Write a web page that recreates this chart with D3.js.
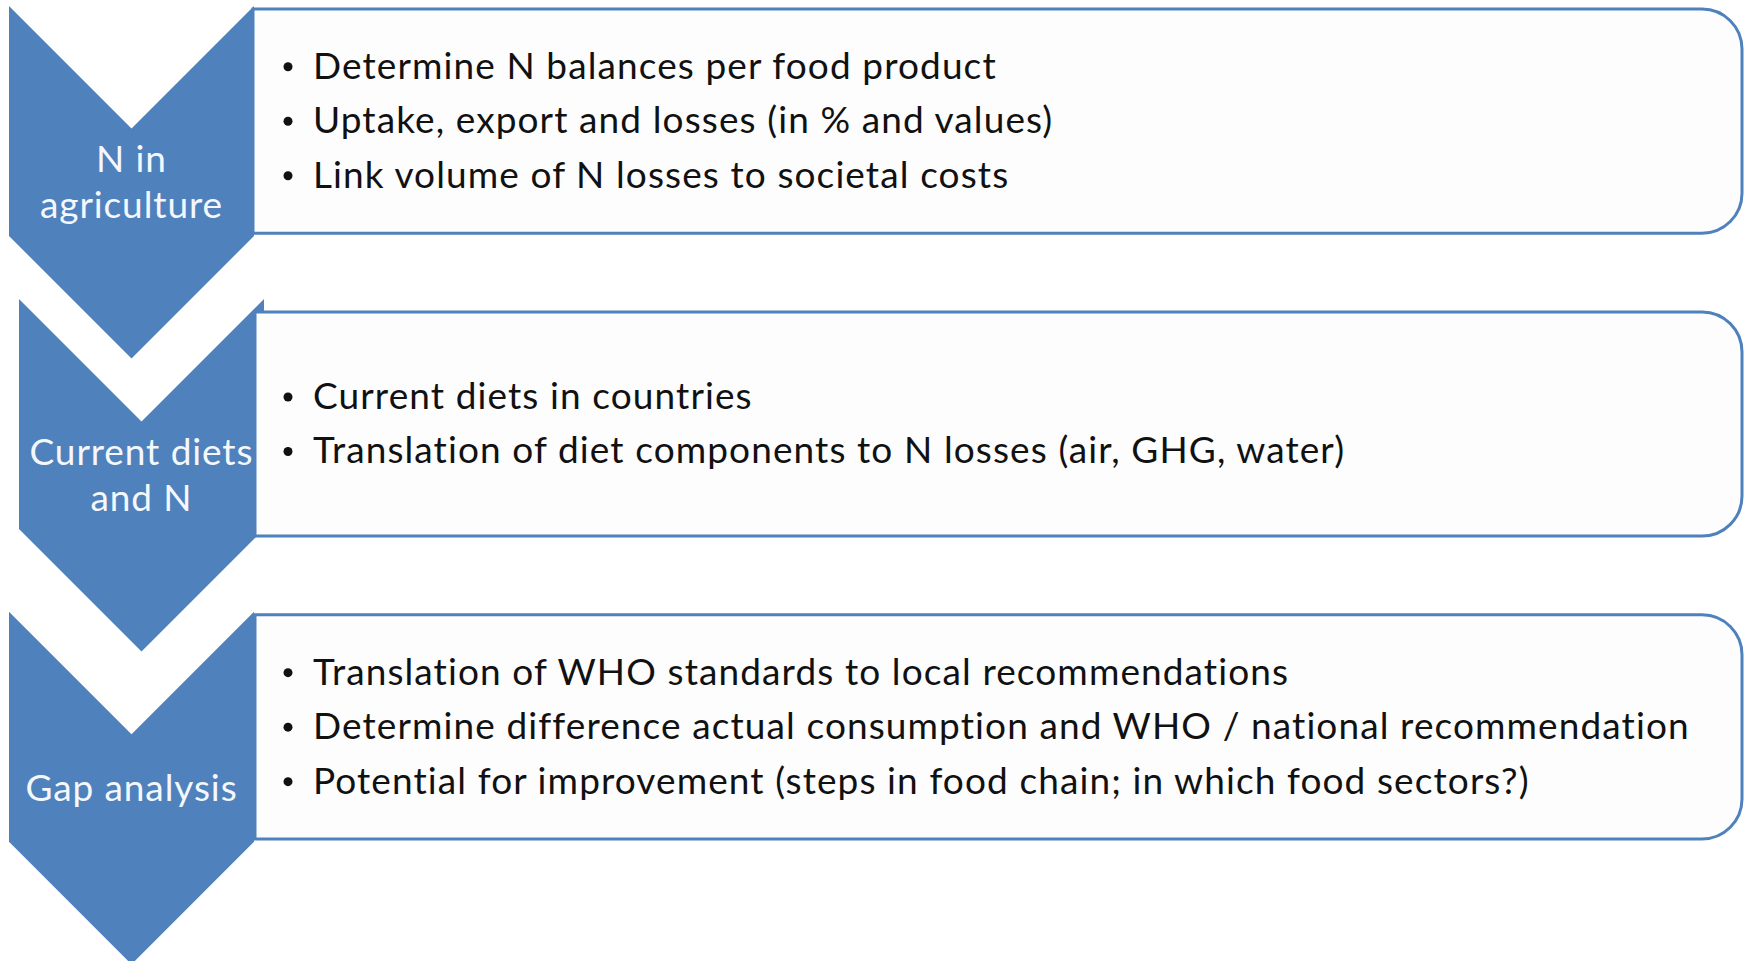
<!DOCTYPE html>
<html>
<head>
<meta charset="utf-8">
<script src="https://cdn.jsdelivr.net/npm/d3@7"></script>
<style>
  html, body { margin: 0; padding: 0; background: #ffffff; }
  svg { display: block; }
  .stage-label { font-family: Lato, "Open Sans", sans-serif; fill: #f4f8fc; letter-spacing: 0.9px; }
  .bullet-text { font-family: Lato, "Open Sans", sans-serif; fill: #111111; letter-spacing: 1.1px; }
</style>
</head>
<body>
<div id="visualization"></div>
<script>
'use strict';

// stage names, one entry per chevron (each entry is a list of lines)
const stageLabels = [
    ['N in', 'agriculture'],
    ['Current diets', 'and N'],
    ['Gap analysis']
];

// bullet points that sit in the box beside each chevron
const bulletsAgriculture = [
    'Determine N balances per food product',
    'Uptake, export and losses (in % and values)',
    'Link volume of N losses to societal costs'
];
const bulletsDiets = [
    'Current diets in countries',
    'Translation of diet components to N losses (air, GHG, water)'
];
const bulletsGap = [
    'Translation of WHO standards to local recommendations',
    'Determine difference actual consumption and WHO / national recommendation',
    'Potential for improvement (steps in food chain; in which food sectors?)'
];
const stageBullets = [ bulletsAgriculture, bulletsDiets, bulletsGap ];

const width = 1748;
const height = 961;
const blue = '#4f81bd';

const layout = {
    boxLeft: 253,
    boxRight: 1742,
    boxRadius: 40,
    chevronLeft: 9,
    chevronWidth: 245,
    chevronBody: 230,
    bulletX: 288,
    textX: 313,
    lineGap: 54.5,
    fontSize: 37,
    labelSize: 37,
    labelGap: 46
};

// the middle chevron in the original is nudged up and to the right
const chevronNudge = [ [0, 0], [10, -10], [0, 0] ];

const svg = d3.select('#visualization')
    .append('svg')
    .attr('width', width)
    .attr('height', height);

const rows = d3.range(stageLabels.length);

const y = d3.scaleBand()
    .domain(rows)
    .range([9, 839])
    .paddingInner(0.26)
    .paddingOuter(0);

function chevronPath(x0, y0) {
    const w = layout.chevronWidth;
    const d = w / 2;
    const p = d3.path();
    p.moveTo(x0, y0);
    p.lineTo(x0 + d, y0 + d);
    p.lineTo(x0 + w, y0);
    p.lineTo(x0 + w, y0 + layout.chevronBody);
    p.lineTo(x0 + d, y0 + layout.chevronBody + d);
    p.lineTo(x0, y0 + layout.chevronBody);
    p.closePath();
    return p.toString();
}

function boxPath(x0, y0, x1, y1, r) {
    const p = d3.path();
    p.moveTo(x0, y0);
    p.lineTo(x1 - r, y0);
    p.arcTo(x1, y0, x1, y0 + r, r);
    p.lineTo(x1, y1 - r);
    p.arcTo(x1, y1, x1 - r, y1, r);
    p.lineTo(x0, y1);
    p.closePath();
    return p.toString();
}

const groups = svg.selectAll('.stage')
    .data(rows)
    .enter()
    .append('g')
    .attr('class', 'stage');

// chevrons first, boxes on top of them
groups.append('path')
    .attr('class', 'chevron')
    .attr('d', (i) => chevronPath(layout.chevronLeft + chevronNudge[i][0], y(i) - 3 + chevronNudge[i][1]))
    .attr('fill', blue);

groups.append('path')
    .attr('class', 'box')
    .attr('d', (i) => boxPath(layout.boxLeft + (i === 0 ? 0 : 2), y(i), layout.boxRight, y(i) + y.bandwidth(), layout.boxRadius))
    .attr('fill', '#fdfdfe')
    .attr('stroke', blue)
    .attr('stroke-width', 3);

// chevron labels, centred on the straight part of the chevron
groups.each(function (i) {
    const g = d3.select(this);
    const lines = stageLabels[i];
    const cx = layout.chevronLeft + chevronNudge[i][0] + layout.chevronWidth / 2;
    const top = y(i) - 3 + chevronNudge[i][1];
    const mid = top + (layout.chevronWidth / 2 + layout.chevronBody) / 2;
    const first = mid - (lines.length - 1) * layout.labelGap / 2 + layout.labelSize * 0.34;

    g.selectAll('.stage-label')
        .data(lines)
        .enter()
        .append('text')
        .attr('class', 'stage-label')
        .attr('x', cx)
        .attr('y', (d, k) => first + k * layout.labelGap)
        .attr('text-anchor', 'middle')
        .attr('font-size', layout.labelSize)
        .text((d) => d);

    const items = stageBullets[i];
    const boxMid = y(i) + y.bandwidth() / 2;
    const base = boxMid - (items.length - 1) * layout.lineGap / 2 + layout.fontSize * 0.33;

    g.selectAll('.bullet-dot')
        .data(items)
        .enter()
        .append('circle')
        .attr('class', 'bullet-dot')
        .attr('cx', layout.bulletX)
        .attr('cy', (d, k) => base + k * layout.lineGap - 12)
        .attr('r', 4.5)
        .attr('fill', '#111111');

    g.selectAll('.bullet-text')
        .data(items)
        .enter()
        .append('text')
        .attr('class', 'bullet-text')
        .attr('x', layout.textX)
        .attr('y', (d, k) => base + k * layout.lineGap)
        .attr('font-size', layout.fontSize)
        .text((d) => d);
});
</script>
</body>
</html>
